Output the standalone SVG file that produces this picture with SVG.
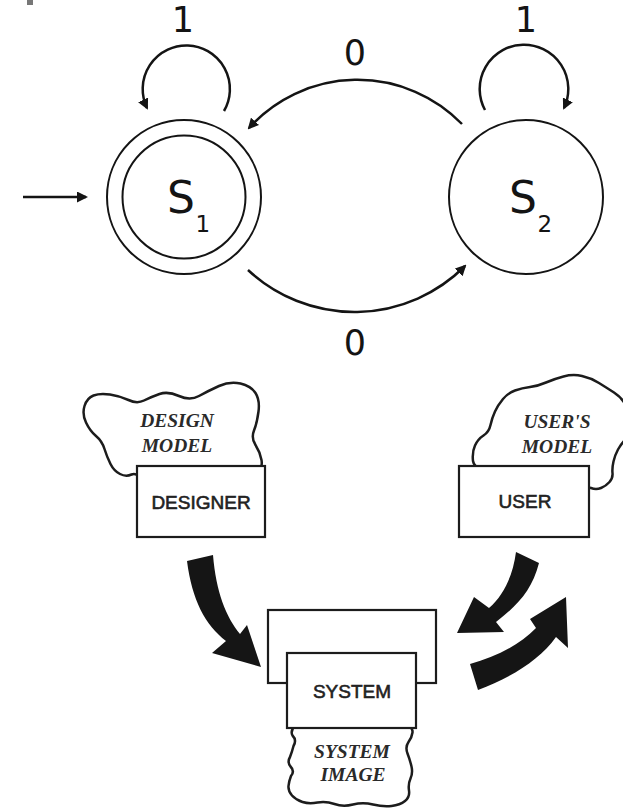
<svg xmlns="http://www.w3.org/2000/svg" width="623" height="811" viewBox="0 0 623 811">
  <defs>
    <style>
      .state { fill: #fff; stroke: #141414; stroke-width: 2; }
      .edge { fill: none; stroke: #141414; stroke-width: 2.5; }
      .lbl { font-family: "DejaVu Sans", sans-serif; fill: #141414; }
      .box { fill: #fff; stroke: #1c1c1c; stroke-width: 2.2; }
      .cloud { fill: #fff; stroke: #1c1c1c; stroke-width: 2.5; stroke-linejoin: round; }
      .boxtxt { font-family: "Liberation Sans", Arial, sans-serif; font-size: 19px; fill: #222; stroke: #222; stroke-width: 0.6; text-anchor: middle; }
      .idea { font-family: "Liberation Serif", "Times New Roman", serif; font-size: 19.5px; font-style: italic; font-weight: bold; fill: #2a2a2a; text-anchor: middle; }
      .flow { fill: #151515; }
    </style>
    <marker id="head" markerWidth="11" markerHeight="11" refX="9" refY="5.5" orient="auto" markerUnits="userSpaceOnUse">
      <path d="M0,0 L11,5.5 L0,11 Z" fill="#141414"/>
    </marker>
  </defs>

  <rect width="623" height="811" fill="#fff"/>
  <rect x="27" y="0" width="6" height="5" fill="#777"/>

  <!-- state machine: connectors -->
  <g id="fsm-connectors">
    <path class="edge" d="M23,197 L86,197" marker-end="url(#head)"/>
    <path class="edge" d="M224,111 A43.6 43.6 0 1 0 147,108" marker-end="url(#head)"/>
    <path class="edge" d="M485,110 A44.3 44.3 0 1 1 564,108" marker-end="url(#head)"/>
    <path class="edge" d="M462,124 A146 146 0 0 0 249,128" marker-end="url(#head)"/>
    <path class="edge" d="M248,270 A156 156 0 0 0 465,266" marker-end="url(#head)"/>
    <text class="lbl" x="183" y="32" font-size="35" text-anchor="middle">1</text>
    <text class="lbl" x="526" y="32" font-size="35" text-anchor="middle">1</text>
    <text class="lbl" x="355" y="65" font-size="35" text-anchor="middle">0</text>
    <text class="lbl" x="355" y="355" font-size="35" text-anchor="middle">0</text>
  </g>

  <!-- state S1 (start, accepting) -->
  <g id="state-s1">
    <circle class="state" cx="184" cy="197" r="77"/>
    <circle class="state" cx="184" cy="197" r="61.5"/>
    <text class="lbl" x="167" y="213" font-size="44">S</text>
    <text class="lbl" x="195.5" y="232" font-size="23">1</text>
  </g>

  <!-- state S2 -->
  <g id="state-s2">
    <circle class="state" cx="526" cy="197" r="77"/>
    <text class="lbl" x="509" y="213" font-size="44">S</text>
    <text class="lbl" x="537.5" y="232" font-size="23">2</text>
  </g>

  <!-- conceptual model: flow arrows -->
  <g id="model-connectors">
    <path class="flow" d="M187,561 C192,600 205,625 226,641 L212,653 L261,667 L247,625 L240,634 C226,617 216,592 213,555 Z"/>
    <path class="flow" d="M516,552 C513,575 504,595 489,608 L474,597 L457,633 L504,632 L496,622 C518,605 532,590 539,563 Z"/>
    <path class="flow" d="M470,664 C495,657 520,645 536,628 L530,619 L566,597 L568,648 L556,637 C540,660 510,678 478,690 Z"/>
  </g>

  <!-- designer and design model -->
  <g id="node-designer">
    <path class="cloud" d="M143.5,481 Q137,472 131.5,474.5 Q126,477 120,474 Q114,471 110.5,464 Q107,457 104.5,449 Q102,441 96,436 Q90,431 86,422.5 Q82,414 84.5,406 Q87,398 93.5,395.5 Q100,393 110,394.5 Q120,396 128.5,400 Q137,404 144,400.5 Q151,397 159.5,394 Q168,391 179,396 Q190,401 199,396 Q208,391 219,386 Q230,381 240.5,383.5 Q251,386 255.5,393 Q260,400 258.5,411.5 Q257,423 254,430.5 Q251,438 255.5,445 Q260,452 261.5,460 Q263,468 256.5,479 Q250,490 200,490 Q150,490 143.5,481 Z"/>
    <text class="idea" x="177" y="427">DESIGN</text>
    <text class="idea" x="177" y="452">MODEL</text>
    <rect class="box" x="137" y="466" width="128" height="71"/>
    <text class="boxtxt" x="201" y="509">DESIGNER</text>
  </g>

  <!-- user and user's model -->
  <g id="node-user">
    <path class="cloud" d="M507,485 Q474,470 473,461 Q472,452 475,445.5 Q478,439 483.5,435.5 Q489,432 490.5,425 Q492,418 495,411.5 Q498,405 503,399 Q508,393 515,390.5 Q522,388 530,387 Q538,386 546,382.5 Q554,379 563.5,376.5 Q573,374 582,376 Q591,378 599,383 Q607,388 614,392.5 Q621,397 625.5,404.5 Q630,412 630,423.5 Q630,435 625.5,439.5 Q621,444 618,449.5 Q615,455 613.5,461.5 Q612,468 612.5,473 Q613,478 609.5,482 Q606,486 601,488 Q596,490 591,488 Q586,486 563,493 Q540,500 507,485 Z"/>
    <text class="idea" x="557" y="428">USER'S</text>
    <text class="idea" x="557" y="453">MODEL</text>
    <rect class="box" x="459" y="466" width="130" height="71"/>
    <text class="boxtxt" x="525" y="508">USER</text>
  </g>

  <!-- system and system image -->
  <g id="node-system">
    <rect class="box" x="268" y="610" width="168" height="73"/>
    <path class="cloud" d="M350,720 Q300,720 295,725.5 Q290,731 292.5,735.5 Q297,740 293.5,746 Q292,752 290,757 Q287,762 290.5,766.5 Q295,771 291,776 Q289,781 288.5,786 Q288,791 292,795.5 Q296,800 302.5,802 Q309,804 317.5,802.5 Q326,801 334.5,804 Q343,807 353,804.5 Q363,802 373,804.5 Q383,807 391.5,806 Q400,805 405,801 Q410,797 409,790.5 Q408,784 410.5,778.5 Q413,773 411.5,766.5 Q410,760 407.5,753.5 Q405,747 408.5,742 Q412,737 412.5,732.5 Q413,728 406.5,724 Q400,720 350,720 Z"/>
    <rect class="box" x="287" y="653" width="129" height="75"/>
    <text class="boxtxt" x="352" y="698">SYSTEM</text>
    <text class="idea" x="352" y="758">SYSTEM</text>
    <text class="idea" x="353" y="781">IMAGE</text>
  </g>
</svg>
